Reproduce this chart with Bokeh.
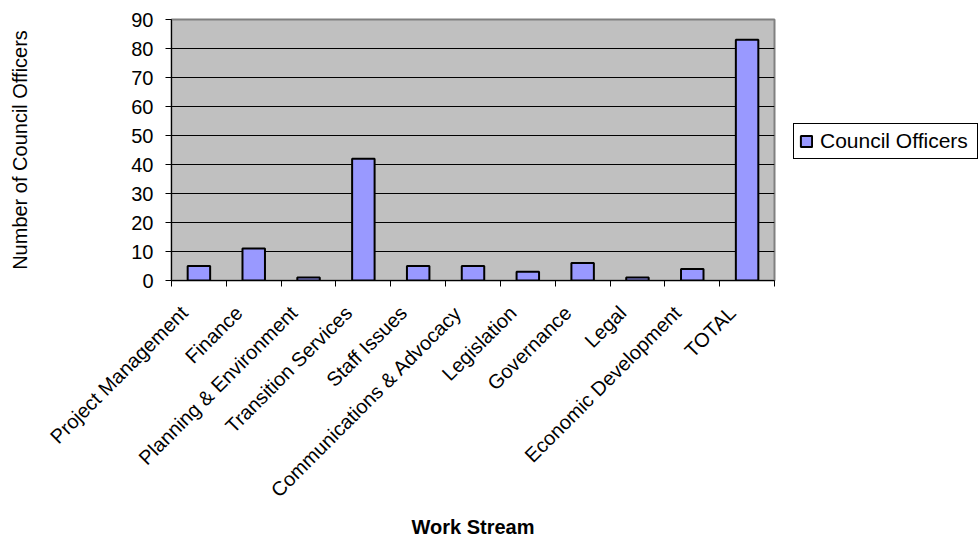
import math
from bokeh.plotting import figure
from bokeh.models import (ColumnDataSource, Range1d, FixedTicker, Legend, LegendItem)
from bokeh.embed import file_html
from bokeh.resources import INLINE

# Officers assigned to each work stream
work_streams = [
    "Project Management", "Finance", "Planning & Environment", "Transition Services",
    "Staff Issues", "Communications & Advocacy", "Legislation", "Governance",
    "Legal", "Economic Development", "TOTAL",
]
council_officers = [5, 11, 1, 42, 5, 5, 3, 6, 1, 4, 83]
y_ticks = [0, 10, 20, 30, 40, 50, 60, 70, 80, 90]

FONT = "Liberation Sans"

centers = [i + 0.5 for i in range(len(work_streams))]
# slanted labels sit a little left of their bar so the text ends under it
label_pos = [c - 0.27 for c in centers]
source = ColumnDataSource(dict(x=centers, top=council_officers, name=work_streams))

p = figure(
    width=979, height=537, frame_width=603, frame_height=261,
    x_range=Range1d(0, len(work_streams)), y_range=Range1d(0, 90),
    output_backend="svg", toolbar_location=None,
    min_border_left=171, min_border_right=205, min_border_top=19, min_border_bottom=257,
)
p.background_fill_color = "#C0C0C0"
p.border_fill_color = "white"
p.outline_line_color = "#808080"
p.outline_line_width = 2

bars = p.vbar(x="x", top="top", bottom=0, width=0.41, source=source,
              fill_color="#9999FF", line_color="black", line_width=2)

# x axis: labels under the bars, tick marks on the category boundaries
xa = p.xaxis[0]
xa.ticker = FixedTicker(ticks=label_pos, minor_ticks=list(range(len(work_streams) + 1)))
xa.major_label_overrides = {c: n for c, n in zip(label_pos, work_streams)}
xa.major_label_orientation = math.pi / 4
xa.major_tick_out = 0
xa.major_tick_in = 0
xa.minor_tick_out = 6
xa.minor_tick_in = 0
xa.minor_tick_line_color = "black"
xa.axis_line_color = "black"
xa.major_label_text_font = FONT
xa.major_label_text_font_size = "20px"
xa.major_label_text_color = "black"
xa.major_label_standoff = 23
xa.axis_label = "Work Stream"
xa.axis_label_text_font = FONT
xa.axis_label_text_font_size = "20px"
xa.axis_label_text_font_style = "bold"
xa.axis_label_text_color = "black"
xa.axis_label_standoff = 4

ya = p.yaxis[0]
ya.ticker = FixedTicker(ticks=y_ticks)
ya.major_tick_out = 6
ya.major_tick_in = 0
ya.minor_tick_line_color = None
ya.axis_line_color = "black"
ya.major_label_text_font = FONT
ya.major_label_text_font_size = "20px"
ya.major_label_text_color = "black"
ya.major_label_standoff = 12
ya.axis_label = "Number of Council Officers"
ya.axis_label_text_font = FONT
ya.axis_label_text_font_size = "20px"
ya.axis_label_text_font_style = "normal"
ya.axis_label_text_color = "black"
ya.axis_label_standoff = 97

p.xgrid.grid_line_color = None
p.ygrid.ticker = FixedTicker(ticks=y_ticks)
p.ygrid.grid_line_color = "black"
p.ygrid.grid_line_width = 1

legend = Legend(
    items=[LegendItem(label="Council Officers", renderers=[bars])],
    location=(19, 121),
    border_line_color="black", border_line_width=1, border_line_alpha=1,
    background_fill_color="white", background_fill_alpha=1,
    label_text_font=FONT, label_text_font_size="21px", label_text_color="black",
    glyph_width=14, glyph_height=14, label_standoff=7, label_width=152,
    padding=5, margin=0, label_height=20,
)
p.add_layout(legend, "right")

open("out.html", "w").write(file_html(p, INLINE))
